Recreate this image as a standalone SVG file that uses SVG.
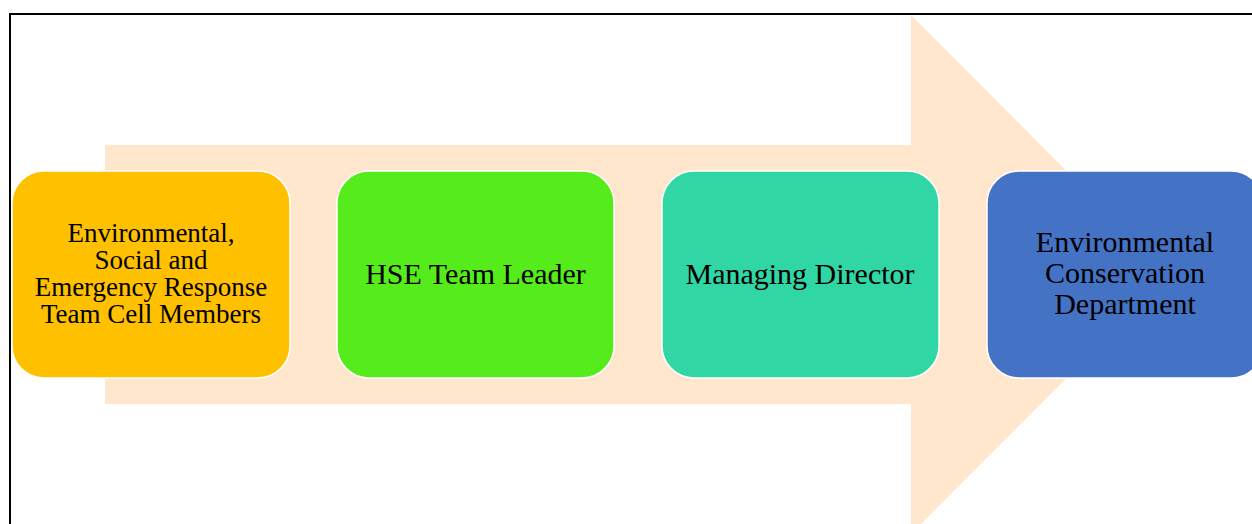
<svg xmlns="http://www.w3.org/2000/svg" width="1252" height="524" viewBox="0 0 1252 524">
<style>
.box{stroke:#ffffff;stroke-width:1.5}
.t{font-family:"Liberation Serif","Times New Roman",serif;fill:#000000;text-anchor:middle}
</style>
<rect x="0" y="0" width="1252" height="524" fill="#ffffff"/>
<rect x="10" y="14" width="1260" height="530" fill="none" stroke="#000000" stroke-width="2"/>
<g id="connectors">
<polygon points="105,145 911,145 911,15 1170,274.5 911,534 911,404 105,404" fill="#FEE7CD"/>
</g>
<g id="node-ese-team">
<rect class="box" x="12" y="171" width="278" height="207" rx="32" ry="32" fill="#FFC000"/>
<text class="t" font-size="27"><tspan x="151" y="242">Environmental,</tspan><tspan x="151" y="269">Social and</tspan><tspan x="151" y="296">Emergency Response</tspan><tspan x="151" y="323">Team Cell Members</tspan></text>
</g>
<g id="node-hse">
<rect class="box" x="337" y="171" width="277" height="207" rx="32" ry="32" fill="#56EB1B"/>
<text class="t" font-size="30" x="475.5" y="284">HSE Team Leader</text>
</g>
<g id="node-md">
<rect class="box" x="662" y="171" width="277" height="207" rx="32" ry="32" fill="#30D6A3"/>
<text class="t" font-size="30" x="800" y="284">Managing Director</text>
</g>
<g id="node-ecd">
<rect class="box" x="987" y="171" width="276" height="207" rx="32" ry="32" fill="#4472C4"/>
<text class="t" font-size="30"><tspan x="1125" y="252">Environmental</tspan><tspan x="1125" y="283">Conservation</tspan><tspan x="1125" y="314">Department</tspan></text>
</g>
</svg>
